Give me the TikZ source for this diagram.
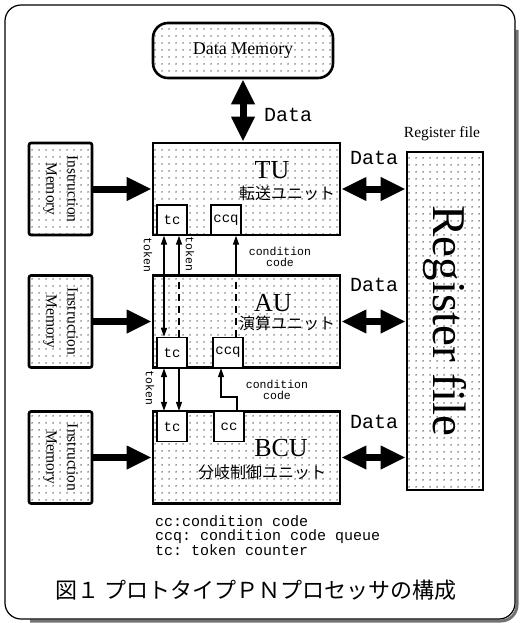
\documentclass[tikz,border=0pt]{standalone}
\usepackage{fontspec}
\setmainfont{Liberation Serif}
\setmonofont{Liberation Mono}
\newfontfamily\jpfont{Noto Sans CJK JP}
\usepackage{tikz}
\usetikzlibrary{arrows.meta,patterns.meta,calc}
\tikzset{
  dotfill/.style={pattern={Dots[distance=6.5pt,radius=0.75pt]}},
  unit/.style={draw, line width=2.6pt, dotfill, minimum width=187pt, minimum height=92pt, inner sep=0pt},
  imem/.style={draw, line width=2.6pt, rounded corners=2pt, dotfill, minimum width=63pt, minimum height=92pt, inner sep=0pt},
  dmem/.style={draw, line width=2.6pt, rounded corners=15pt, dotfill, minimum width=180pt, minimum height=55pt,
               font=\fontsize{18}{18}\selectfont},
  rfbox/.style={draw, line width=2.6pt, dotfill, minimum width=76pt, minimum height=338pt, inner sep=0pt},
  cnt/.style={draw, line width=1.4pt, fill=white, minimum width=30pt, minimum height=30pt, inner sep=0pt,
              font=\fontsize{14}{14}\ttfamily},
  ttl/.style={font=\fontsize{26}{26}\selectfont, inner sep=0pt},
  jp/.style={font=\jpfont\fontsize{16}{16}\selectfont, inner sep=0pt},
  dlbl/.style={font=\fontsize{20}{20}\ttfamily, inner sep=0pt},
  tlbl/.style={font=\fontsize{11.5}{11}\ttfamily, inner sep=0pt, align=center},
  fat/.style={line width=7pt, -{Triangle[length=25pt,width=22pt]}},
  fatboth/.style={line width=7pt, {Triangle[length=25pt,width=22pt]}-{Triangle[length=25pt,width=22pt]}},
  tarr/.style={line width=1.4pt, -{Triangle[length=9pt,width=6pt]}},
  tboth/.style={line width=1.4pt, {Triangle[length=9pt,width=6pt]}-{Triangle[length=9pt,width=6pt]}},
  tdash/.style={line width=1.4pt, dash pattern=on 7pt off 5pt},
}

\begin{document}
\begin{tikzpicture}[x=1pt,y=-1pt]
  \useasboundingbox (0,0) rectangle (519,623);
  \draw[line width=3pt, black!55, rounded corners=16pt] (517,30) -- (517,621) -- (30,621);
  \draw[line width=1.2pt, rounded corners=16pt] (5,5) rectangle (515,619);

  \node[dmem] (dm) at (243,50.5) {Data\ Memory};
  \node[unit] (tu) at (246.5,189) {};
  \node[unit] (au) at (246.5,321.5) {};
  \node[unit] (bcu) at (246.5,457.5) {};
  \node[rfbox] (rf) at (445,321) {};
  \node[font=\fontsize{47}{47}\selectfont, rotate=-90] (rftxt) at (rf.center) {Register file};
  \node[font=\fontsize{15.5}{16}\selectfont] (rflbl) at (442,134) {Register file};

  \foreach \n/\y in {im1/189, im2/321.5, im3/457.5} {
    \node[imem] (\n) at (60.5,\y) {};
    \node[rotate=-90, align=center, font=\fontsize{15.5}{21}\selectfont] at (\n.center) {Instruction\\Memory};
  }

  \node[ttl] (tut) at (272,170) {TU};
  \node[jp] (tuj) at (287,193) {転送ユニット};
  \node[ttl] (aut) at (273,303) {AU};
  \node[jp] (auj) at (287,323) {演算ユニット};
  \node[ttl] (bcut) at (281,448) {BCU};
  \node[jp] (bcuj) at (262,472) {分岐制御ユニット};

  \node[cnt] (tutc) at (172,220) {tc};
  \node[cnt] (tuccq) at (226,220) {ccq};
  \node[cnt] (autc) at (172,352.5) {tc};
  \node[cnt] (auccq) at (228,352.5) {ccq};
  \node[cnt] (bcutc) at (172,426.5) {tc};
  \node[cnt] (cc) at (229,426.5) {cc};

  \draw[fatboth] (dm.south) -- (dm.south |- tu.north);
  \draw[fat] (im1) -- (tu);
  \draw[fat] (im2) -- (au);
  \draw[fat] (im3) -- (bcu);
  \draw[fatboth] (tu.east) -- (tu.east -| rf.west);
  \draw[fatboth] (au.east) -- (au.east -| rf.west);
  \draw[fatboth] (bcu.east) -- (bcu.east -| rf.west);

  \node[dlbl] (d0) at (288,115) {Data};
  \node[dlbl] (d1) at (374,158) {Data};
  \node[dlbl] (d2) at (374,285) {Data};
  \node[dlbl] (d3) at (374,422) {Data};

  \coordinate (tk) at ([xshift=7pt]autc.north);
  \coordinate (cq) at ([xshift=8pt]auccq.north);
  \draw[tboth] ([xshift=-8pt]tutc.south) -- ([xshift=-8pt]autc.north);
  \draw[tarr] (tk |- au.north) -- ([xshift=7pt]tutc.south);
  \draw[tdash] (tk) -- (tk |- au.north);
  \draw[tarr] (cq |- au.north) -- (cq |- tuccq.south);
  \draw[tdash] (cq) -- (cq |- au.north);
  \draw[tboth] ([xshift=-8pt]autc.south) -- ([xshift=-8pt]bcutc.north);
  \draw[tarr] ([xshift=7pt]autc.south) -- ([xshift=7pt]bcutc.north);
  \draw[tarr] ([xshift=8pt]cc.north) -- ++(0,-14) -| ([xshift=-7pt]auccq.south);

  \node[tlbl, rotate=-90] (tok1) at (148,255) {token};
  \node[tlbl, rotate=-90] (tok2) at (190,254) {token};
  \node[tlbl, rotate=-90] (tok3) at (150,388) {token};
  \node[tlbl] (cnd1) at (280,257) {condition\\code};
  \node[tlbl] (cnd2) at (277,390) {condition\\code};

  \node[anchor=north west, align=left, inner sep=0pt, font=\fontsize{15}{14.5}\ttfamily] (leg) at (155,515)
    {cc:condition code\\ccq: condition code queue\\tc: token counter};
  \node[font=\jpfont\fontsize{22}{22}\selectfont] (cap) at (256,590) {図１ プロトタイプＰＮプロセッサの構成};
\end{tikzpicture}
\end{document}
